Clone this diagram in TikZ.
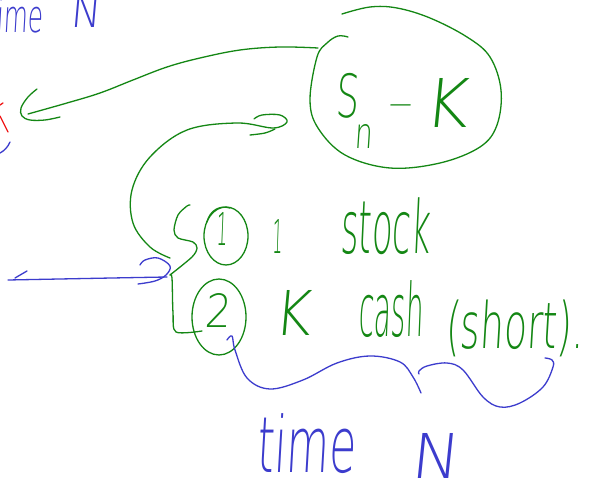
\documentclass[tikz,border=0pt]{standalone}
\usepackage{fontspec}
\usepackage{graphicx}
\newfontfamily\handfont[FakeSlant=0.1]{DejaVu Sans ExtraLight}
% fit a word into a given box (width, total height), in pt
\newcommand\handword[3]{\resizebox*{#1pt}{#2pt}{\handfont #3}}
\definecolor{inkgreen}{RGB}{20,135,20}
\definecolor{inkblue}{RGB}{60,60,205}
\definecolor{inkred}{RGB}{240,25,25}
\tikzset{
  pen/.style={line width=1.3pt, line cap=round, line join=round},
  gpen/.style={pen, draw=inkgreen},
  bpen/.style={pen, draw=inkblue},
  rpen/.style={pen, draw=inkred},
  gword/.style={inner sep=0pt, anchor=north west, text=inkgreen},
  bword/.style={inner sep=0pt, anchor=north west, text=inkblue},
}
\begin{document}
\begin{tikzpicture}[x=1pt, y=-1pt]
\useasboundingbox (0,0) rectangle (590,486);
\clip (0,0) rectangle (590,486);
\fill[white] (0,0) rectangle (590,486);

% ---- blue heading, top left (runs off the edge)
\node[bword] (timeA) at (-13,-2) {\handword{56}{35}{time}};
\node[bword] (nA) at (70,-6) {\handword{30}{33}{N}};

% ---- red and blue scraps at the left edge
\draw[rpen] (0,116) -- (8,132);
\draw[rpen] (0,105) -- (3,103);
\draw[bpen] (10,142) .. controls (8,147) and (4,151) .. (0,153);

% ---- loop around S_n - K
\draw[gpen] plot[smooth, tension=0.6] coordinates {
  (342,14) (370,7) (397,8) (430,18) (467,37) (490,57) (501,90) (497,125)
  (480,147) (440,163) (390,168) (345,155) (318,128) (310,100) (317,57)
  (327,43) (338,36) (348,37)};
\node[gword] (S) at (335,73) {\handword{23}{45}{S}};
\node[gword] (nsub) at (354,124) {\handword{18}{24}{n}};
\node[inner sep=0pt, anchor=base west, text=inkgreen] (minus) at (386,116)
  {\resizebox{27pt}{!}{\handfont −}};
\node[gword] (K) at (423,78) {\handword{44}{49}{K}};

% ---- green arrow to the left
\draw[gpen] plot[smooth, tension=0.6] coordinates {
  (318,48) (280,47) (240,50) (200,58) (167,67) (133,80) (100,93) (67,103) (28,114)};
\draw[gpen] plot[smooth, tension=0.6] coordinates {
  (37,89) (28,97) (21,108) (22,116) (30,120) (45,120) (60,117)};

% ---- big green arc down to the brace
\draw[gpen] plot[smooth, tension=0.6] coordinates {
  (170,258) (150,247) (133,223) (132,190) (150,157) (187,130) (237,123)
  (273,128) (287,122) (280,115) (262,115) (254,119)};
\draw[gpen] plot[smooth, tension=0.6] coordinates {(250,135) (265,133) (275,129)};

% ---- brace grouping the two items
\draw[gpen] plot[smooth, tension=0.5] coordinates {
  (190,205) (187,206) (178,215) (174,230) (178,238) (193,242) (197,248)
  (192,257) (170,275)};
\draw[gpen] plot[smooth, tension=0.5] coordinates {
  (170,275) (172,278) (173,313) (176,332) (202,331)};

% ---- item 1
\draw[gpen] (226,236) ellipse [x radius=22, y radius=29];
\draw[gpen] (207,222) .. controls (210,210) and (220,205) .. (230,208);
\node[gword] (one) at (216,212) {\handword{11}{33}{1}};
\node[gword] (oneB) at (272,219) {\handword{10}{34}{1}};
\node[gword] (stock) at (340,198) {\handword{90}{57}{stock}};

% ---- item 2
\draw[gpen] (219,317) ellipse [x radius=27, y radius=38];
\node[gword] (two) at (204,293) {\handword{26}{34}{2}};
\node[gword] (K2) at (273,290) {\handword{37}{45}{K}};
\node[gword] (cash) at (358,280) {\handword{65}{57}{cash}};
\node[gword] (short) at (445,300) {\handword{138}{57}{(short).}};

% ---- blue arrow to the left, with its hook
\draw[bpen] (167,277) .. controls (110,278) and (60,279) .. (8,280);
\draw[bpen] (15,278) -- (27,271);
\draw[bpen] plot[smooth, tension=0.6] coordinates {
  (140,265) (145,260) (158,258) (170,266) (166,275) (155,281) (138,284)};

% ---- blue waves under item 2
\draw[bpen] plot[smooth, tension=0.6] coordinates {
  (227,340) (232,336) (235,350) (247,378) (270,389) (303,380) (337,363)
  (370,356) (400,362) (413,377) (421,393)};
\draw[bpen] plot[smooth, tension=0.6] coordinates {
  (419,374) (419,371) (427,366) (447,363) (463,370) (483,397) (500,407)
  (520,403) (543,387) (553,367) (552,360) (545,358)};

% ---- blue caption at the bottom
\node[bword] (timeB) at (256,413) {\handword{99}{60}{time}};
\node[bword] (nB) at (410,433) {\handword{48}{45}{N}};
\end{tikzpicture}
\end{document}
